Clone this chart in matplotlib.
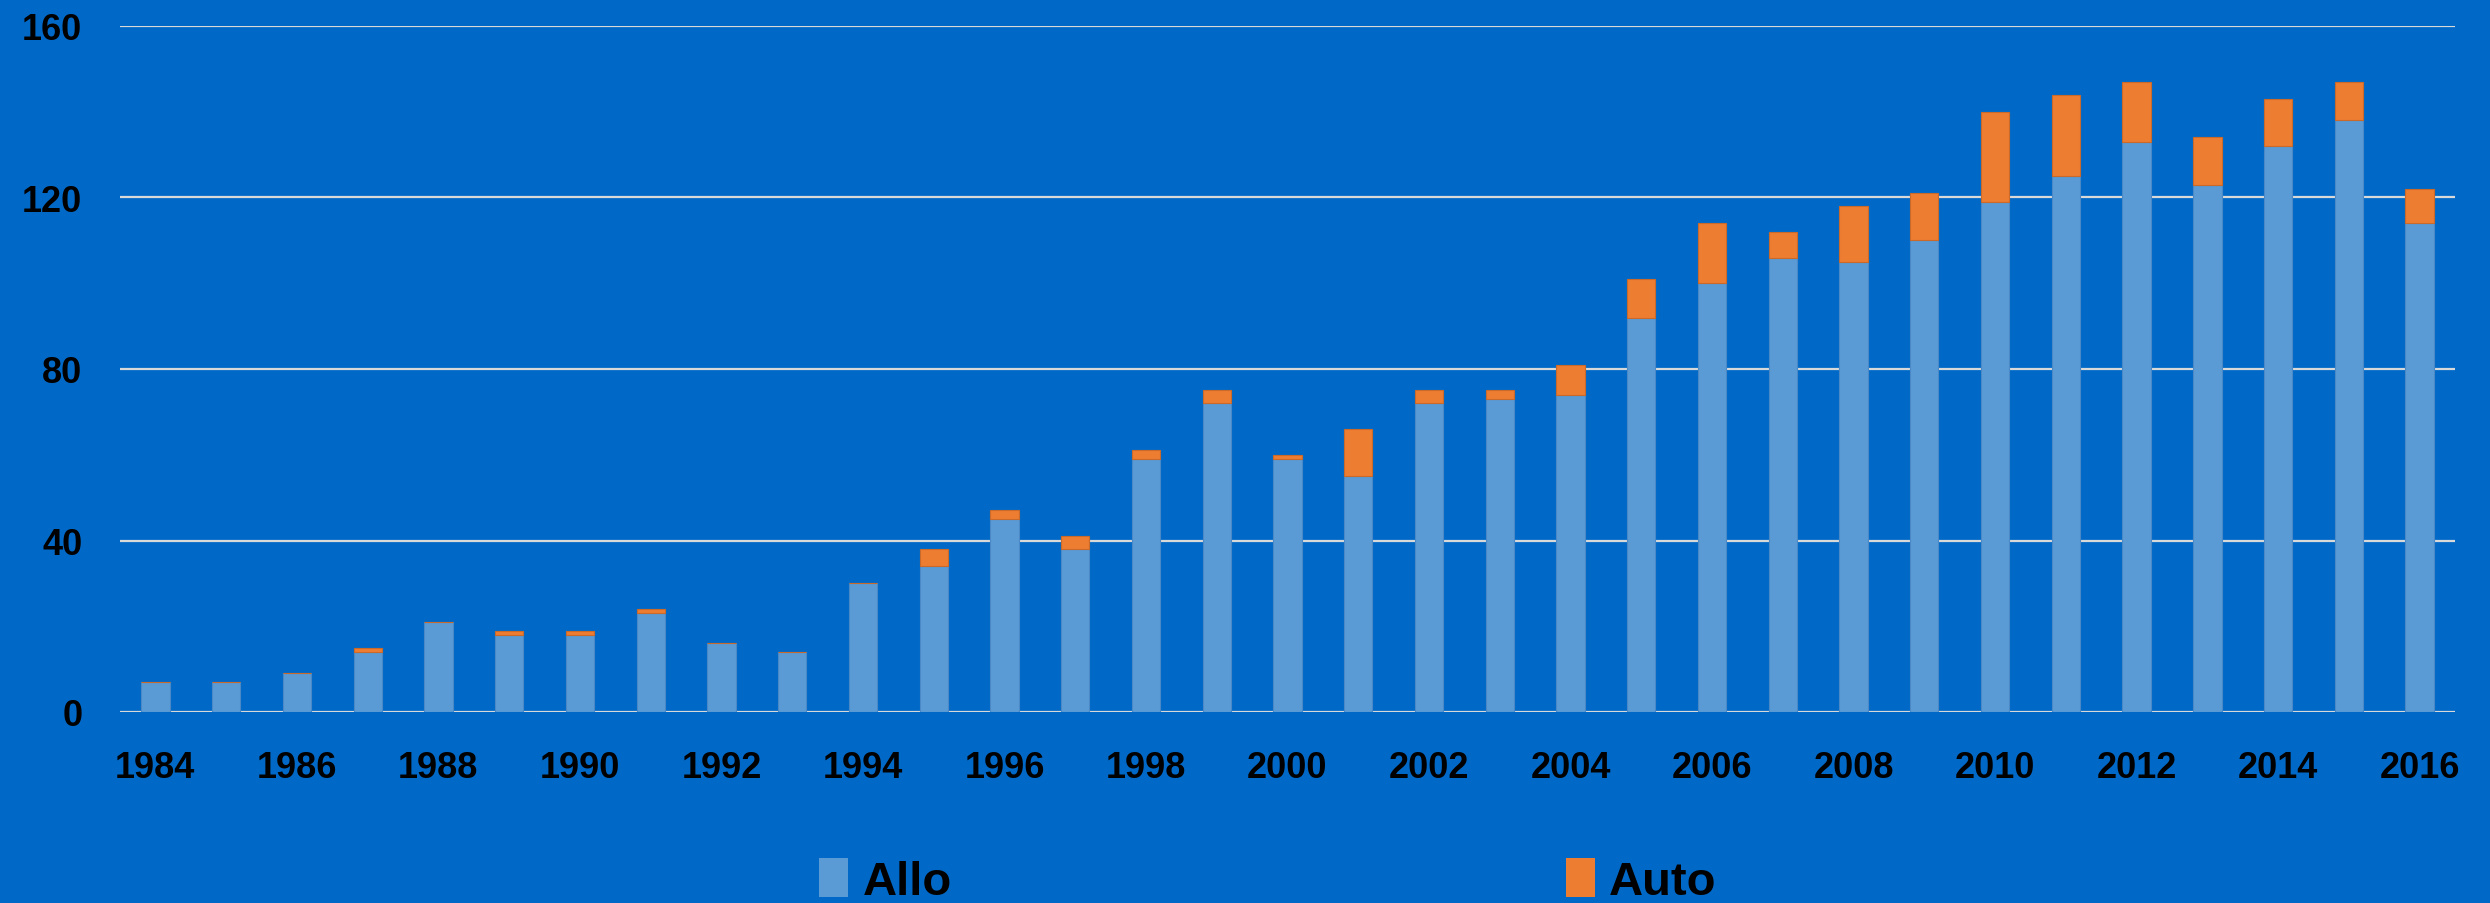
import numpy as np
import matplotlib
matplotlib.use("Agg")
import matplotlib.pyplot as plt
from matplotlib.patches import Patch

years = list(range(1984, 2017))
allo = [7, 7, 9, 14, 21, 18, 18, 23, 16, 14, 30, 34, 45, 38, 59, 72, 59, 55,
        72, 73, 74, 92, 100, 106, 105, 110, 119, 125, 133, 123, 132, 138, 114]
auto = [0, 0, 0, 1, 0, 1, 1, 1, 0, 0, 0, 4, 2, 3, 2, 3, 1, 11,
        3, 2, 7, 9, 14, 6, 13, 11, 21, 19, 14, 11, 11, 9, 8]
series_names = ["Allo", "Auto"]
y_ticks = [0, 40, 80, 120, 160]

bg = "#0069C8"
c_allo = "#5B9BD5"
c_auto = "#ED7D31"

plt.rcParams['font.family'] = ['Liberation Sans', 'DejaVu Sans']

fig = plt.figure(figsize=(24.9, 9.04), dpi=100, facecolor=bg)
ax = fig.add_axes([120 / 2490, 1 - 713 / 904, (2455 - 120) / 2490, (713 - 27) / 904])
ax.set_facecolor(bg)

ax.bar(years, allo, width=0.4, color=c_allo, edgecolor="#4A89C6", linewidth=0.8, zorder=3)
ax.bar(years, auto, width=0.4, bottom=allo, color=c_auto, edgecolor="#C9692A",
       linewidth=0.8, zorder=3)

ax.set_xlim(years[0] - 0.5, years[-1] + 0.5)
ax.set_ylim(0, 160)
ax.set_yticks(y_ticks)
ax.set_xticks(years[::2])
ax.grid(axis="y", color="#D9D9D9", linewidth=1.6, zorder=1)
ax.set_axisbelow(True)
for s in ax.spines.values():
    s.set_visible(False)
ax.tick_params(axis="both", length=0, labelsize=26, labelcolor="black")
ax.tick_params(axis="y", pad=27)
ax.tick_params(axis="x", pad=27)
for lab in ax.get_xticklabels() + ax.get_yticklabels():
    lab.set_fontweight("bold")

handles = [Patch(facecolor=c_allo), Patch(facecolor=c_auto)]
fig.legend(handles, series_names, loc="upper left",
           bbox_to_anchor=(819 / 2490, 1 - 859 / 904), ncol=2, frameon=False,
           prop={"size": 34, "weight": "bold"}, handlelength=0.62, handleheight=0.9,
           handletextpad=0.3, columnspacing=13.0, borderpad=0, borderaxespad=0)

fig.savefig("out.png", dpi=100, facecolor=bg)
